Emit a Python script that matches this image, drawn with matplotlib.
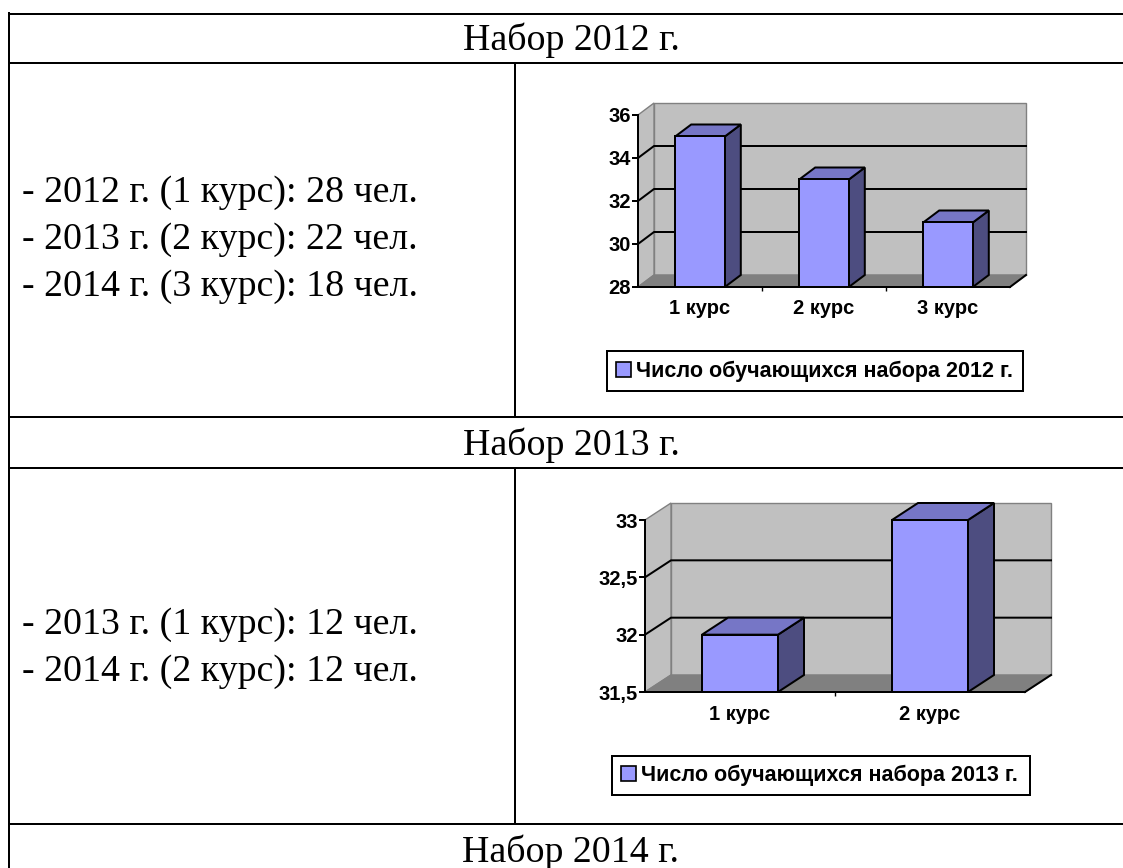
import matplotlib
matplotlib.use('Agg')
import matplotlib.pyplot as plt
from matplotlib.patches import Polygon, Rectangle, Patch

W, H = 1123, 868

# ---- данные ----
titles = ['Набор 2012 г.', 'Набор 2013 г.', 'Набор 2014 г.']
lines_2012 = ['- 2012 г. (1 курс): 28 чел.',
              '- 2013 г. (2 курс): 22 чел.',
              '- 2014 г. (3 курс): 18 чел.']
lines_2013 = ['- 2013 г. (1 курс): 12 чел.',
              '- 2014 г. (2 курс): 12 чел.']

courses_2012 = ['1 курс', '2 курс', '3 курс']
students_2012 = [35, 33, 31]
yticks_2012 = [28, 30, 32, 34, 36]
ylabels_2012 = ['28', '30', '32', '34', '36']
legend_2012 = 'Число обучающихся набора 2012 г.'

courses_2013 = ['1 курс', '2 курс']
students_2013 = [32, 33]
yticks_2013 = [31.5, 32, 32.5, 33]
ylabels_2013 = ['31,5', '32', '32,5', '33']
legend_2013 = 'Число обучающихся набора 2013 г.'

# ---- стиль ----
FRONT = '#9999FF'
TOP = '#7676C6'
SIDE = '#4D4D80'
WALL = '#C0C0C0'
FLOOR = '#808080'
EDGE = '#808080'
LW = 1.44  # 2 px
SANS = {'family': 'Liberation Sans', 'weight': 'bold', 'size': 14.5}
LEG_FONT = {'family': 'Liberation Sans', 'weight': 'bold', 'size': 15.5}
SERIF_SIZE = 27.3

plt.rcParams['font.family'] = ['Liberation Serif', 'DejaVu Serif']

fig = plt.figure(figsize=(W / 100, H / 100), dpi=100)

# таблица (в пикселях)
bg = fig.add_axes([0, 0, 1, 1])
bg.set_xlim(0, W)
bg.set_ylim(H, 0)
bg.axis('off')
for y in [14, 63, 417, 468, 824]:
    bg.plot([8.5, W + 5], [y, y], color='black', lw=LW, solid_capstyle='butt')
bg.plot([8.5, 8.5], [13, H + 5], color='black', lw=LW)
bg.plot([515, 515], [63, 417], color='black', lw=LW)
bg.plot([515, 515], [468, 824], color='black', lw=LW)

for t, y in zip(titles, [50, 455, 862]):
    bg.text(571, y, t, fontsize=SERIF_SIZE, ha='center', va='baseline')
for i, t in enumerate(lines_2012):
    bg.text(22, 202 + i * 46.7, t, fontsize=SERIF_SIZE, ha='left', va='baseline')
for i, t in enumerate(lines_2013):
    bg.text(22, 634 + i * 46.7, t, fontsize=SERIF_SIZE, ha='left', va='baseline')


def chart(box, cats, vals, yticks, ylabels, depth, legend_text, leg_box):
    l, t, r, b = box
    ax = fig.add_axes([l / W, 1 - b / H, (r - l) / W, (b - t) / H])
    n = len(cats)
    y0, y1 = yticks[0], yticks[-1]
    x0, x1 = -0.5, n - 0.5
    ax.set_xlim(x0, x1)
    ax.set_ylim(y0, y1)
    ax.patch.set_visible(False)
    dx = depth[0] * n / (r - l)
    dy = depth[1] * (y1 - y0) / (b - t)

    kw = dict(clip_on=False, lw=1.0, joinstyle='miter')
    ax.add_patch(Rectangle((x0 + dx, y0 + dy), x1 - x0, y1 - y0,
                           fc=WALL, ec=EDGE, zorder=0.1, **kw))
    ax.add_patch(Polygon([(x0, y0), (x0 + dx, y0 + dy), (x0 + dx, y1 + dy), (x0, y1)],
                         fc=WALL, ec=EDGE, zorder=0.2, **kw))
    ax.add_patch(Polygon([(x0, y0), (x1, y0), (x1 + dx, y0 + dy), (x0 + dx, y0 + dy)],
                         fc=FLOOR, ec=EDGE, zorder=0.3, **kw))
    for v in yticks[1:-1]:
        ax.plot([x0, x0 + dx, x1 + dx], [v, v + dy, v + dy], color='black',
                lw=LW, clip_on=False, zorder=0.4)
    ax.plot([x1, x1 + dx], [y0, y0 + dy], color='black', lw=LW,
            clip_on=False, zorder=3)

    bw = 0.4
    for i, v in enumerate(vals):
        xl, xr = i - bw / 2, i + bw / 2
        bkw = dict(ec='black', lw=LW, clip_on=False, zorder=2, joinstyle='miter')
        ax.add_patch(Polygon([(xr, y0), (xr + dx, y0 + dy), (xr + dx, v + dy), (xr, v)],
                             fc=SIDE, **bkw))
        ax.add_patch(Polygon([(xl, v), (xr, v), (xr + dx, v + dy), (xl + dx, v + dy)],
                             fc=TOP, **bkw))
        ax.add_patch(Rectangle((xl, y0), bw, v - y0, fc=FRONT, **bkw))

    for s in ['top', 'right']:
        ax.spines[s].set_visible(False)
    for s in ['left', 'bottom']:
        ax.spines[s].set_linewidth(LW)
        ax.spines[s].set_zorder(3)
    ax.set_yticks(yticks)
    ax.set_yticklabels(ylabels, fontdict=SANS)
    ax.set_xticks(range(n))
    ax.set_xticklabels(cats, fontdict=SANS)
    ax.set_xticks([k + 0.5 for k in range(n - 1)], minor=True)
    ax.tick_params(axis='y', length=4, width=LW, pad=1, direction='out')
    ax.tick_params(axis='x', which='major', length=0, pad=9)
    ax.tick_params(axis='x', which='minor', length=3, width=1.0, direction='out')

    lx, ly, lw_, lh = leg_box
    leg = ax.legend(handles=[Patch(fc=FRONT, ec='black', lw=1.2, label=legend_text)],
                    loc='center left', mode='expand',
                    bbox_to_anchor=(lx / W, 1 - (ly + lh) / H, lw_ / W, lh / H),
                    bbox_transform=fig.transFigure, frameon=True, fancybox=False,
                    framealpha=1, edgecolor='black', borderpad=0.42,
                    handlelength=0.7, handleheight=0.7, handletextpad=0.25,
                    borderaxespad=0, prop=LEG_FONT)
    leg.get_frame().set_linewidth(LW)
    return ax


chart((638, 115, 1010, 287), courses_2012, students_2012, yticks_2012, ylabels_2012,
      (16, 12), legend_2012, (607, 350, 416, 42))
chart((645, 520, 1025, 692), courses_2013, students_2013, yticks_2013, ylabels_2013,
      (26, 17), legend_2013, (612, 756, 418, 39))

fig.savefig('out.png', dpi=100)
